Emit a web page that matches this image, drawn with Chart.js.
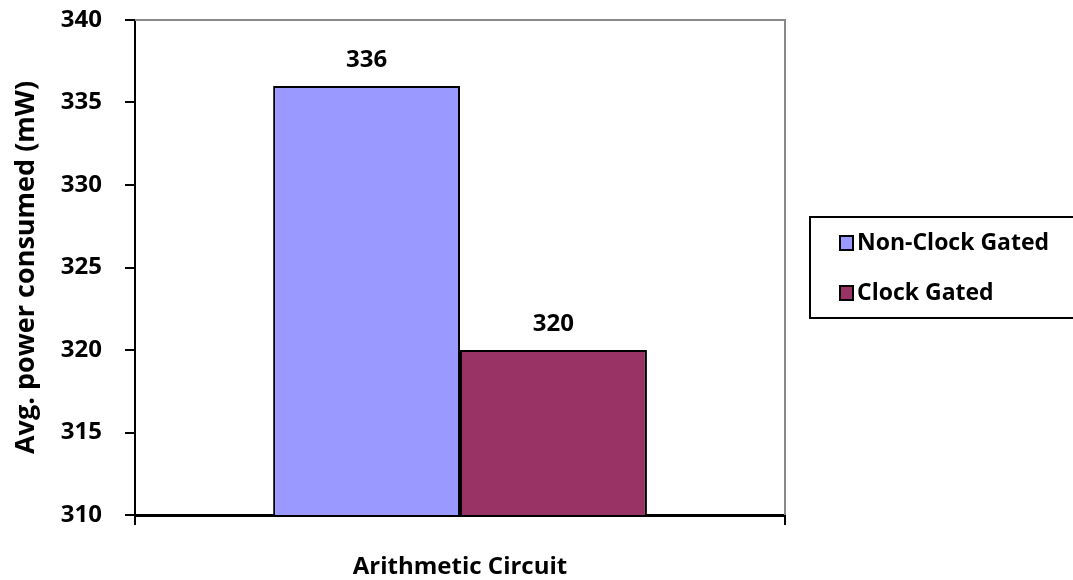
<!DOCTYPE html>
<html>
<head>
<meta charset="utf-8">
<script src="https://cdn.jsdelivr.net/npm/chart.js@4"></script>
<style>
  html, body { margin: 0; padding: 0; background: #fff; }
  #wrap { width: 1073px; height: 580px; position: relative; }
</style>
</head>
<body>
<div id="wrap"><canvas id="chartPower"></canvas></div>
<script>
// chart values
var categories = ['Arithmetic Circuit'];
var seriesNames = ['Non-Clock Gated', 'Clock Gated'];
var nonGated = [336];
var gated = [320];
var yTicks = [310, 315, 320, 325, 330, 335, 340];

var fontFamily = "'Open Sans', Lato, sans-serif";

// top/right grey frame, value labels and boxed legend
const extras = {
    id: 'extras',
    afterDraw: function (chart) {
        const ctx = chart.ctx;
        const a = chart.chartArea;
        ctx.save();
        ctx.strokeStyle = '#888888';
        ctx.lineWidth = 2;
        ctx.beginPath();
        ctx.moveTo(a.left, a.top);
        ctx.lineTo(a.right, a.top);
        ctx.lineTo(a.right, a.bottom);
        ctx.stroke();

        // labels above bars
        ctx.fillStyle = '#000';
        ctx.font = 'bold 24px ' + fontFamily;
        ctx.textAlign = 'center';
        ctx.textBaseline = 'bottom';
        chart.data.datasets.forEach(function (ds, i) {
            const meta = chart.getDatasetMeta(i);
            meta.data.forEach(function (bar, j) {
                ctx.fillText(ds.data[j], bar.x, bar.y - 14);
            });
        });

        // legend box
        ctx.strokeStyle = '#000';
        ctx.lineWidth = 2;
        ctx.strokeRect(810, 217, 280, 101);
        ctx.font = 'bold 23px ' + fontFamily;
        ctx.textAlign = 'left';
        ctx.textBaseline = 'middle';
        chart.data.datasets.forEach(function (ds, i) {
            const y = 243 + i * 50;
            ctx.fillStyle = ds.backgroundColor;
            ctx.fillRect(840, y - 7, 13, 14);
            ctx.lineWidth = 2;
            ctx.strokeRect(840, y - 7, 13, 14);
            ctx.fillStyle = '#000';
            ctx.fillText(ds.label, 857, y);
        });
        ctx.restore();
    }
};

const ctx = document.getElementById('chartPower').getContext('2d');
const myChart = new Chart(ctx, {
    type: 'bar',
    data: {
        labels: categories,
        datasets: [{
            label: seriesNames[0],
            data: nonGated,
            backgroundColor: '#9999FF',
            borderColor: '#000000',
            borderWidth: 2,
            borderSkipped: 'bottom'
        },
        {
            label: seriesNames[1],
            data: gated,
            backgroundColor: '#993366',
            borderColor: '#000000',
            borderWidth: 2,
            borderSkipped: 'bottom'
        }]
    },
    options: {
        responsive: true,
        maintainAspectRatio: false,
        animation: false,
        layout: {
            padding: { top: 20, right: 288, left: 0, bottom: 0 }
        },
        plugins: {
            legend: { display: false },
            tooltip: { enabled: false }
        },
        datasets: {
            bar: { categoryPercentage: 0.575, barPercentage: 1.0 }
        },
        scales: {
            x: {
                grid: {
                    display: true,
                    drawOnChartArea: false,
                    drawTicks: true,
                    tickLength: 10,
                    color: '#000',
                    lineWidth: 2
                },
                border: { display: true, color: '#000', width: 3 },
                ticks: {
                    color: '#000',
                    padding: 28,
                    font: { family: fontFamily, size: 24, weight: 'bold' }
                },
                afterFit: function (scale) {
                    scale.height = 65;
                    scale.paddingLeft = 0;
                    scale.paddingRight = 0;
                }
            },
            y: {
                min: 310,
                max: 340,
                afterBuildTicks: function (scale) {
                    scale.ticks = yTicks.map(function (v) { return { value: v }; });
                },
                grid: {
                    display: true,
                    drawOnChartArea: false,
                    drawTicks: true,
                    tickLength: 10,
                    color: '#000',
                    lineWidth: 2
                },
                border: { display: true, color: '#000', width: 2 },
                ticks: {
                    color: '#000',
                    padding: 23,
                    font: { family: fontFamily, size: 24, weight: 'bold' }
                },
                title: {
                    display: true,
                    text: 'Avg. power consumed (mW)',
                    color: '#000',
                    padding: { top: 10, bottom: 0 },
                    font: { family: fontFamily, size: 27, weight: 'bold' }
                },
                afterFit: function (scale) {
                    scale.width = 135;
                    scale.paddingTop = 0;
                    scale.paddingBottom = 0;
                }
            }
        }
    },
    plugins: [extras]
});
</script>
</body>
</html>
